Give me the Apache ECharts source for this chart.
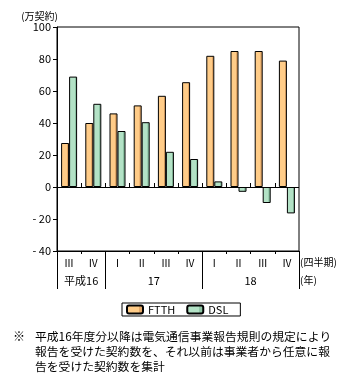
<!DOCTYPE html>
<html>
<head>
<meta charset="utf-8">
<script src="https://cdn.jsdelivr.net/npm/echarts@6/dist/echarts.min.js"></script>
<style>
  html, body { margin: 0; padding: 0; background: #fff; }
  #chart { width: 348px; height: 383px; }
</style>
</head>
<body>
<div id="chart"></div>
<script>
// Quarterly net additions of broadband contracts (10k contracts)
const quarters = ['Ⅲ', 'Ⅳ', 'Ⅰ', 'Ⅱ', 'Ⅲ', 'Ⅳ', 'Ⅰ', 'Ⅱ', 'Ⅲ', 'Ⅳ'];
const years = ['平成16', '17', '18'];
const yearCenters = [1, 4, 8];          // middle of each fiscal year span, in quarter units
const yearBounds = [0, 2, 6, 10];       // quarter positions where a fiscal year starts/ends
const ftth = [27.5, 40, 46, 51, 57, 65.5, 82, 85, 85, 79];
const dsl = [69, 52, 35, 40.5, 22, 17.5, 3.5, -3, -10, -16.5];
const yTicks = [-40, -20, 0, 20, 40, 60, 80, 100];
const seriesNames = ['FTTH', 'DSL'];
const note = [
  '平成16年度分以降は電気通信事業報告規則の規定により',
  '報告を受けた契約数を、それ以前は事業者から任意に報',
  '告を受けた契約数を集計'
];

const FONT = '"Noto Sans CJK JP", "Noto Sans", sans-serif';

function shaded(base, dark) {
  return {
    type: 'linear', x: 0, y: 0, x2: 1, y2: 0,
    colorStops: [
      { offset: 0, color: base },
      { offset: 0.7, color: base },
      { offset: 0.74, color: dark },
      { offset: 1, color: dark }
    ]
  };
}

const chart = echarts.init(document.getElementById('chart'), null, { renderer: 'canvas' });

const grid = { left: 57, top: 27, width: 242, height: 224, show: true, borderColor: '#000', borderWidth: 1, backgroundColor: 'transparent' };
const axisLineStyle = { color: '#000', width: 1 };

chart.setOption({
  animation: false,
  textStyle: { fontFamily: FONT, color: '#000' },
  grid: grid,
  title: [
    { text: '※', left: 13, top: 329, padding: 0,
      textStyle: { fontFamily: FONT, fontSize: 12, fontWeight: 'normal', color: '#000', lineHeight: 15 } },
    { text: note.join('\n'), left: 35, top: 329, padding: 0,
      textStyle: { fontFamily: FONT, fontSize: 11.8, fontWeight: 'normal', color: '#000', lineHeight: 15 } }
  ],
  legend: {
    data: seriesNames,
    left: 122, top: 303,
    orient: 'horizontal',
    itemWidth: 16, itemHeight: 8, itemGap: 11,
    padding: [1, 12, 1, 4],
    borderColor: '#000', borderWidth: 1,
    textStyle: { fontFamily: FONT, fontSize: 11, color: '#000' }
  },
  xAxis: [
    {
      type: 'category', data: quarters, position: 'bottom',
      name: '(四半期)', nameLocation: 'end', nameGap: 1,
      nameTextStyle: { fontFamily: FONT, fontSize: 10, color: '#000', verticalAlign: 'top', padding: [6, 0, 0, 0] },
      axisLine: { onZero: false, lineStyle: axisLineStyle },
      axisTick: { show: true, length: 3, lineStyle: axisLineStyle },
      axisLabel: { fontFamily: FONT, fontSize: 10, color: '#000', margin: 7 },
      splitLine: { show: false }
    },
    {
      type: 'value', min: 0, max: 10, position: 'bottom',
      axisLine: { show: false },
      axisTick: { show: true, inside: true, length: 4, lineStyle: axisLineStyle, customValues: [1, 2, 3, 4, 5, 6, 7, 8, 9] },
      axisLabel: { show: false },
      splitLine: { show: false }
    },
    {
      type: 'value', min: 0, max: 10, position: 'bottom',
      name: '(年)', nameLocation: 'end', nameGap: 1,
      nameTextStyle: { fontFamily: FONT, fontSize: 10, color: '#000', verticalAlign: 'top', padding: [24, 0, 0, 0] },
      axisLine: { show: false },
      axisTick: { show: true, length: 38, lineStyle: axisLineStyle, customValues: yearBounds },
      axisLabel: {
        show: true, fontFamily: FONT, fontSize: 11, color: '#000', margin: 24,
        customValues: yearCenters,
        formatter: function (v) { const i = yearCenters.indexOf(v); return i >= 0 ? years[i] : ''; }
      },
      splitLine: { show: false }
    }
  ],
  yAxis: {
    type: 'value', min: yTicks[0], max: yTicks[yTicks.length - 1], interval: 20,
    name: '(万契約)', nameLocation: 'end', nameGap: 5,
    nameTextStyle: { fontFamily: FONT, fontSize: 10, color: '#000', align: 'right', padding: [0, -1, 0, 0] },
    axisLine: { show: true, lineStyle: axisLineStyle },
    axisTick: { show: true, length: 4, lineStyle: axisLineStyle },
    axisLabel: {
      fontFamily: FONT, fontSize: 11, color: '#000', margin: 6,
      formatter: function (v) { return v < 0 ? '- ' + Math.abs(v) : String(v); }
    },
    splitLine: { show: false }
  },
  series: [
    {
      name: seriesNames[0], type: 'bar', data: ftth, barWidth: 8, barGap: '0%',
      itemStyle: { color: shaded('#FFCC88', '#E3A767'), borderColor: '#000', borderWidth: 1 },
      markLine: {
        silent: true, symbol: 'none', label: { show: false },
        lineStyle: { color: '#000', width: 1, type: 'solid' },
        data: [{ yAxis: 0 }]
      }
    },
    {
      name: seriesNames[1], type: 'bar', data: dsl, barWidth: 8,
      itemStyle: { color: shaded('#B3E2C6', '#8CC3A3'), borderColor: '#000', borderWidth: 1 }
    }
  ]
});
</script>
</body>
</html>
